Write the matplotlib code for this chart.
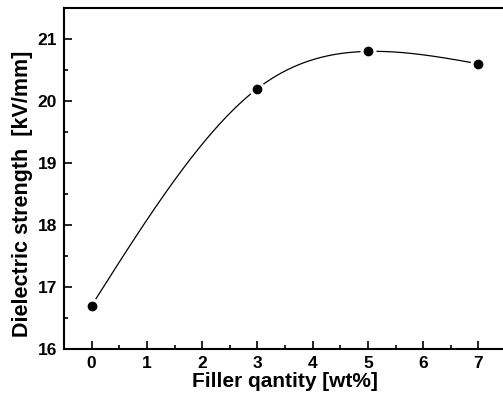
import numpy as np
import matplotlib
matplotlib.use("Agg")
import matplotlib.pyplot as plt
from matplotlib.ticker import MultipleLocator

plt.rcParams['font.family'] = ['Liberation Sans', 'DejaVu Sans']
plt.rcParams['font.weight'] = 'bold'

# Data
filler = [0, 3, 5, 7]
strength = [16.7, 20.2, 20.8, 20.6]


# Natural cubic spline for the smooth connecting line
def natural_spline(x, y, xs):
    x = np.asarray(x, float)
    y = np.asarray(y, float)
    n = len(x)
    h = np.diff(x)
    A = np.zeros((n, n))
    b = np.zeros(n)
    A[0, 0] = 1
    A[-1, -1] = 1
    for i in range(1, n - 1):
        A[i, i - 1] = h[i - 1]
        A[i, i] = 2 * (h[i - 1] + h[i])
        A[i, i + 1] = h[i]
        b[i] = 6 * ((y[i + 1] - y[i]) / h[i] - (y[i] - y[i - 1]) / h[i - 1])
    M = np.linalg.solve(A, b)
    out = np.empty_like(xs)
    for k, xv in enumerate(xs):
        i = min(np.searchsorted(x, xv) - 1, n - 2)
        i = max(i, 0)
        t1 = x[i + 1] - xv
        t0 = xv - x[i]
        out[k] = (M[i] * t1**3 + M[i + 1] * t0**3) / (6 * h[i]) \
            + (y[i] / h[i] - M[i] * h[i] / 6) * t1 \
            + (y[i + 1] / h[i] - M[i + 1] * h[i] / 6) * t0
    return out


xs = np.linspace(filler[0], filler[-1], 300)
ys = natural_spline(filler, strength, xs)

fig = plt.figure(figsize=(5.03, 4.03), dpi=100)
ax = fig.add_axes([64 / 503, 54 / 403, 442 / 503, 341 / 403])

ax.plot(xs, ys, color='black', lw=0.9, zorder=2)
ax.plot(filler, strength, 'o', color='black', ms=6.5,
        mec='white', mew=5, zorder=3)
ax.plot(filler, strength, 'o', color='black', ms=6, zorder=4)

ax.set_xlim(-0.5, 7.5)
ax.set_ylim(16, 21.5)
ax.xaxis.set_major_locator(MultipleLocator(1))
ax.xaxis.set_minor_locator(MultipleLocator(0.5))
ax.yaxis.set_major_locator(MultipleLocator(1))
ax.yaxis.set_minor_locator(MultipleLocator(0.5))
ax.tick_params(which='both', direction='in', width=1.2, labelsize=12.5, pad=5)
ax.tick_params(which='major', length=6)
ax.tick_params(which='minor', length=3)
for s in ax.spines.values():
    s.set_linewidth(1.5)

ax.set_xlabel('Filler qantity [wt%]', fontsize=15, fontweight='bold', labelpad=1)
ax.set_ylabel('Dielectric strength  [kV/mm]', fontsize=15.5, fontweight='bold', labelpad=3)
ax.yaxis.label.set_y(0.456)

fig.savefig('out.png', dpi=100)
